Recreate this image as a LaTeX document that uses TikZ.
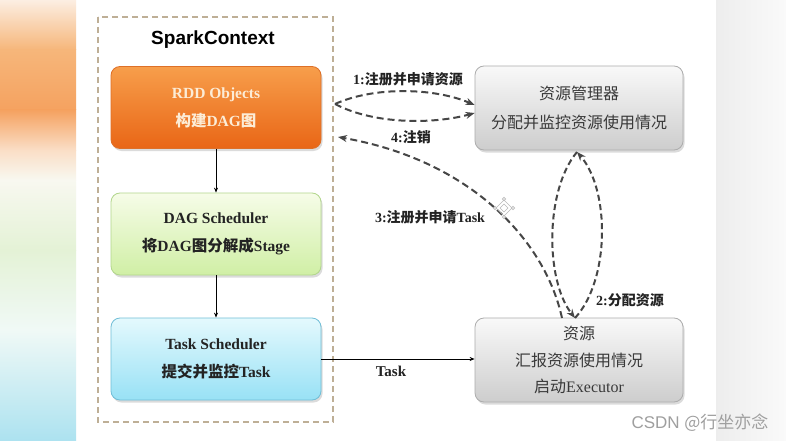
\documentclass[tikz,border=0pt]{standalone}
\usepackage{fontspec}
\setmainfont{Liberation Serif}
\newfontfamily\cjk{Noto Sans CJK SC}
\newfontfamily\arialf{Liberation Sans}
\usetikzlibrary{arrows.meta,shadows,calc}
\newcommand{\zh}[1]{{\cjk #1}}
\definecolor{orTop}{RGB}{247,158,75}
\definecolor{orBot}{RGB}{233,102,22}
\definecolor{orDraw}{RGB}{222,112,40}
\definecolor{orText}{RGB}{252,236,214}
\definecolor{grTop}{RGB}{246,252,232}
\definecolor{grBot}{RGB}{208,239,165}
\definecolor{grDraw}{RGB}{178,214,140}
\definecolor{blTop}{RGB}{228,249,253}
\definecolor{blBot}{RGB}{152,225,245}
\definecolor{blDraw}{RGB}{112,190,215}
\definecolor{gyTop}{RGB}{249,249,249}
\definecolor{gyBot}{RGB}{205,205,205}
\definecolor{gyDraw}{RGB}{172,172,172}
\definecolor{txt}{RGB}{35,35,35}
\definecolor{frame}{RGB}{190,175,150}
\definecolor{dsh}{RGB}{70,70,70}
\definecolor{l1}{RGB}{252,238,226}
\definecolor{l2}{RGB}{246,182,122}
\definecolor{l3}{RGB}{245,162,96}
\definecolor{l4}{RGB}{250,222,198}
\definecolor{l5}{RGB}{248,248,240}
\definecolor{l6}{RGB}{228,242,214}
\definecolor{l7}{RGB}{240,249,246}
\definecolor{l8}{RGB}{172,226,240}
\begin{document}
\begin{tikzpicture}[x=1pt,y=-1pt,
  box/.style={rounded corners=9pt, minimum width=210pt, minimum height=82pt,
    align=center, line width=0.8pt,
    drop shadow={opacity=0.28,shadow xshift=1.5pt,shadow yshift=-2.5pt}},
  lbl/.style={font=\fontsize{14}{16}\selectfont\bfseries, text=txt},
  dasharrow/.style={draw=dsh, line width=2pt, dash pattern=on 7pt off 4pt,
    -{Stealth[length=9pt,width=7pt]}},
  lensarrow/.style={draw=dsh, line width=2pt, dash pattern=on 6pt off 3.5pt,
    -{Stealth[length=9pt,width=7pt]}},
  solidarrow/.style={draw=black, line width=0.8pt, -{Stealth[length=5pt,width=4pt]}}]
\useasboundingbox (0,0) rectangle (786,441);
% background
\fill[white] (0,0) rectangle (786,441);
\shade[top color=l1,bottom color=l2] (0,0) rectangle (76,50);
\shade[top color=l2,bottom color=l3] (0,50) rectangle (76,110);
\shade[top color=l3,bottom color=l4] (0,110) rectangle (76,150);
\shade[top color=l4,bottom color=l5] (0,150) rectangle (76,180);
\shade[top color=l5,bottom color=l6] (0,180) rectangle (76,250);
\shade[top color=l6,bottom color=l7] (0,250) rectangle (76,330);
\shade[top color=l7,bottom color=l8] (0,330) rectangle (76,441);
\shade[left color=gray!14,right color=gray!4] (716,0) rectangle (786,441);
% SparkContext frame
\draw[frame, line width=1.2pt, dash pattern=on 6pt off 4pt] (98,17) rectangle (333,422);
\node[font=\arialf\fontsize{19}{22}\selectfont\bfseries, text=black] (sc) at (213,40) {SparkContext};
% boxes
\node[box, draw=orDraw, top color=orTop, bottom color=orBot, text=orText,
  font=\fontsize{15.5}{28}\selectfont\bfseries] (rdd) at (216,107.5)
  {RDD Objects\\\zh{构建}DAG\zh{图}};
\node[box, draw=grDraw, top color=grTop, bottom color=grBot, text=txt,
  font=\fontsize{15.5}{28}\selectfont\bfseries] (dag) at (216,234)
  {DAG Scheduler\\\zh{将}DAG\zh{图分解成}Stage};
\node[box, draw=blDraw, top color=blTop, bottom color=blBot, text=txt,
  font=\fontsize{15.5}{28}\selectfont\bfseries] (task) at (216,359)
  {Task Scheduler\\\zh{提交并监控}Task};
\node[box, minimum width=208pt, minimum height=84pt, draw=gyDraw, top color=gyTop, bottom color=gyBot, text=txt!90,
  font=\fontsize{16}{29}\selectfont] (rm) at (579,108)
  {\zh{资源管理器}\\\zh{分配并监控资源使用情况}};
\node[box, minimum width=208pt, minimum height=84pt, draw=gyDraw, top color=gyTop, bottom color=gyBot, text=txt!90,
  font=\fontsize{16}{26.5}\selectfont] (res) at (579,360)
  {\zh{资源}\\\zh{汇报资源使用情况}\\\zh{启动}Executor};
% internal arrows
\draw[solidarrow] (rdd.south) -- (dag.north);
\draw[solidarrow] (dag.south) -- (task.north);
\draw[solidarrow] (task.east) -- (task.east -| res.west);
\node[lbl, font=\fontsize{15}{17}\selectfont\bfseries] (tasklbl) at (391,371) {Task};
% 1: register
\coordinate (a1) at (335,104);
\draw[dasharrow] (a1) .. controls (375,86) and (435,88) .. ([yshift=3pt]rm.west);
\draw[dasharrow] (a1) .. controls (375,125) and (435,124) .. ([yshift=-5pt]rm.west);
\node[lbl] (l1lbl) at (408,79) {1:\zh{注册并申请资源}};
% 4 / 3
\coordinate (a4) at (338,137);
\coordinate (r3) at (562,318);
\draw[dasharrow] (r3) .. controls (545,240) and (470,160) .. (a4);
\node[lbl] (l4lbl) at (411,137) {4:\zh{注销}};
\node[lbl] (l3lbl) at (430,217) {3:\zh{注册并申请}Task};
% ornament
\begin{scope}[draw=gray!55, line width=0.6pt]
  \draw (504,200) -- (512,208) -- (504,216) -- (496,208) -- cycle;
  \draw (504,204) -- (508,208) -- (504,212) -- (500,208) -- cycle;
  \foreach \p in {(504,199),(513,208),(504,217),(495,208)} \draw \p circle (1.6pt);
\end{scope}
% 2: allocate
\coordinate (mt) at (577,152);
\coordinate (mb) at (575,318);
\draw[lensarrow] (mt) .. controls (545,190) and (545,280) .. (mb);
\draw[lensarrow] (mb) .. controls (610,280) and (610,190) .. (mt);
\node[lbl] (l2lbl) at (630,300) {2:\zh{分配资源}};
% watermark
\node[text=gray!75, font=\fontsize{17}{20}\selectfont] (wm) at (700,423) {\arialf CSDN \cjk @行坐亦念};
\end{tikzpicture}
\end{document}
